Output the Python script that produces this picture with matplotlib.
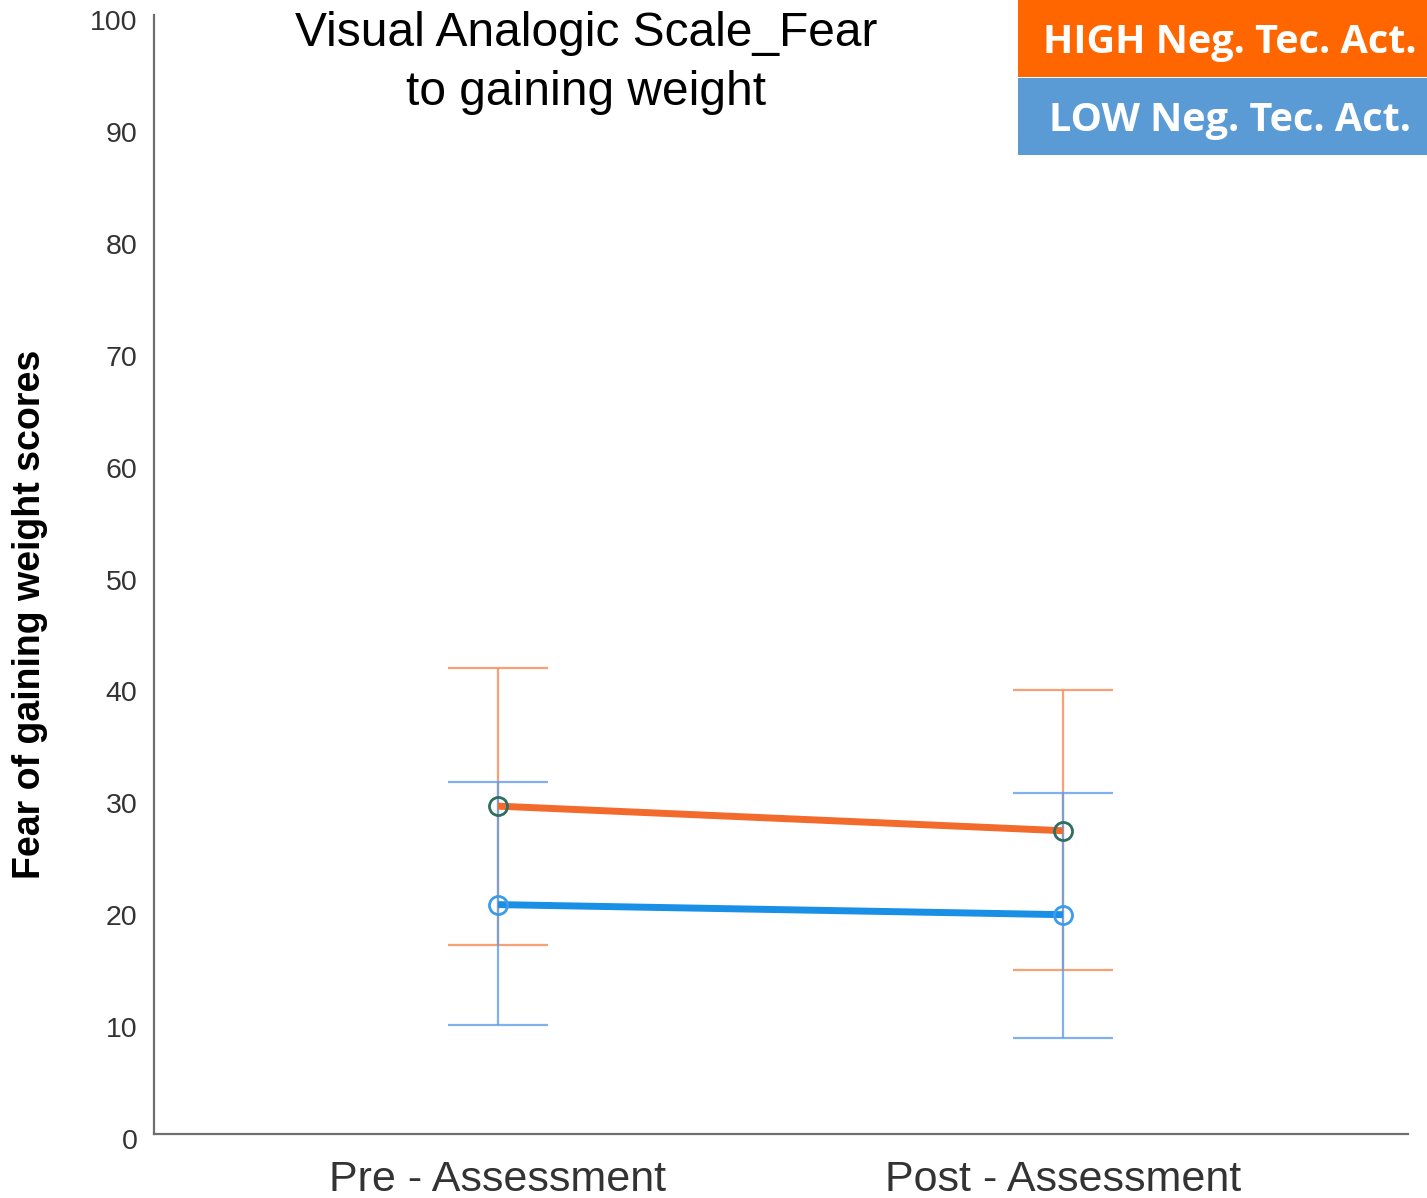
import matplotlib
matplotlib.use("Agg")
import matplotlib.pyplot as plt
import matplotlib.transforms as mtransforms
import numpy as np

# Data
phases = ["Pre - Assessment", "Post - Assessment"]
high_mean = [29.3, 27.1]
high_low = [16.9, 14.7]
high_up = [41.6, 39.7]
low_mean = [20.5, 19.6]
low_low = [9.7, 8.6]
low_up = [31.5, 30.5]
yticks = list(range(0, 101, 10))
title = "Visual Analogic Scale_Fear\nto gaining weight"
ylabel = "Fear of gaining weight scores"
legend_labels = ["HIGH Neg. Tec. Act.", "LOW Neg. Tec. Act."]

plt.rcParams['font.family'] = ['Liberation Sans', 'DejaVu Sans']

fig = plt.figure(figsize=(14.27, 11.98), dpi=100)
ax = fig.add_axes([154/1427, 1 - 1134/1198, (1408-154)/1427, (1134-15)/1198])

x = np.arange(len(phases))
hm = np.array(high_mean); lm = np.array(low_mean)
herr = [hm - np.array(high_low), np.array(high_up) - hm]
lerr = [lm - np.array(low_low), np.array(low_up) - lm]

ax.errorbar(x, hm, yerr=herr, fmt='none', ecolor='#F7915F', elinewidth=1.6,
            capsize=36, capthick=1.6, alpha=0.85, zorder=2)
ax.errorbar(x, lm, yerr=lerr, fmt='none', ecolor='#5E9EEA', elinewidth=1.6,
            capsize=36, capthick=1.6, alpha=0.8, zorder=2)
ax.plot(x, hm, color='#F26A2C', lw=5, solid_capstyle='butt', zorder=3)
ax.plot(x, lm, color='#1A8FE6', lw=5, solid_capstyle='butt', zorder=3)
ax.plot(x, hm, 'o', ms=13, mfc='none', mec='#2F6E60', mew=2, zorder=4)
ax.plot(x, lm, 'o', ms=13, mfc='none', mec='#3C9CEB', mew=2, zorder=4)

ax.set_xlim(-344/565, 1 + 345/565)
ax.set_ylim(0, 100)
ax.set_yticks(yticks)
ax.set_xticks(x)
ax.set_xticklabels(phases, fontsize=31, color='#333333')
ax.tick_params(axis='y', length=0, pad=12, labelsize=20.5, labelcolor='#333333')
ax.tick_params(axis='x', length=0, pad=19)
offset = mtransforms.ScaledTranslation(0, -5/100, fig.dpi_scale_trans)
for lbl in ax.get_yticklabels():
    lbl.set_transform(lbl.get_transform() + offset)
for s in ['top', 'right']:
    ax.spines[s].set_visible(False)
for s in ['left', 'bottom']:
    ax.spines[s].set_color('#6E6E6E')
    ax.spines[s].set_linewidth(1.6)

fig.text(30/1427, 1 - 614/1198, ylabel, rotation=90, ha='center', va='center',
         fontsize=27, fontweight='bold', color='black')

fig.text(586/1427, 1 - 63/1198, title, ha='center', va='center', fontsize=34.5,
         linespacing=1.4)

# Legend boxes
colors = ['#FF6600', '#5B9BD5']
for i, (lab, c) in enumerate(zip(legend_labels, colors)):
    y0 = 1 - (77 + 78*i)/1198
    fig.patches.append(matplotlib.patches.Rectangle((1018/1427, y0), (1427-1018)/1427, 77/1198,
                       transform=fig.transFigure, facecolor=c, edgecolor='none'))
    fig.text(1230/1427, y0 + 34/1198, lab, ha='center', va='center', fontsize=28.5,
             fontweight='bold', color='white', family=['Open Sans', 'DejaVu Sans'])

fig.savefig("out.png", dpi=100)
